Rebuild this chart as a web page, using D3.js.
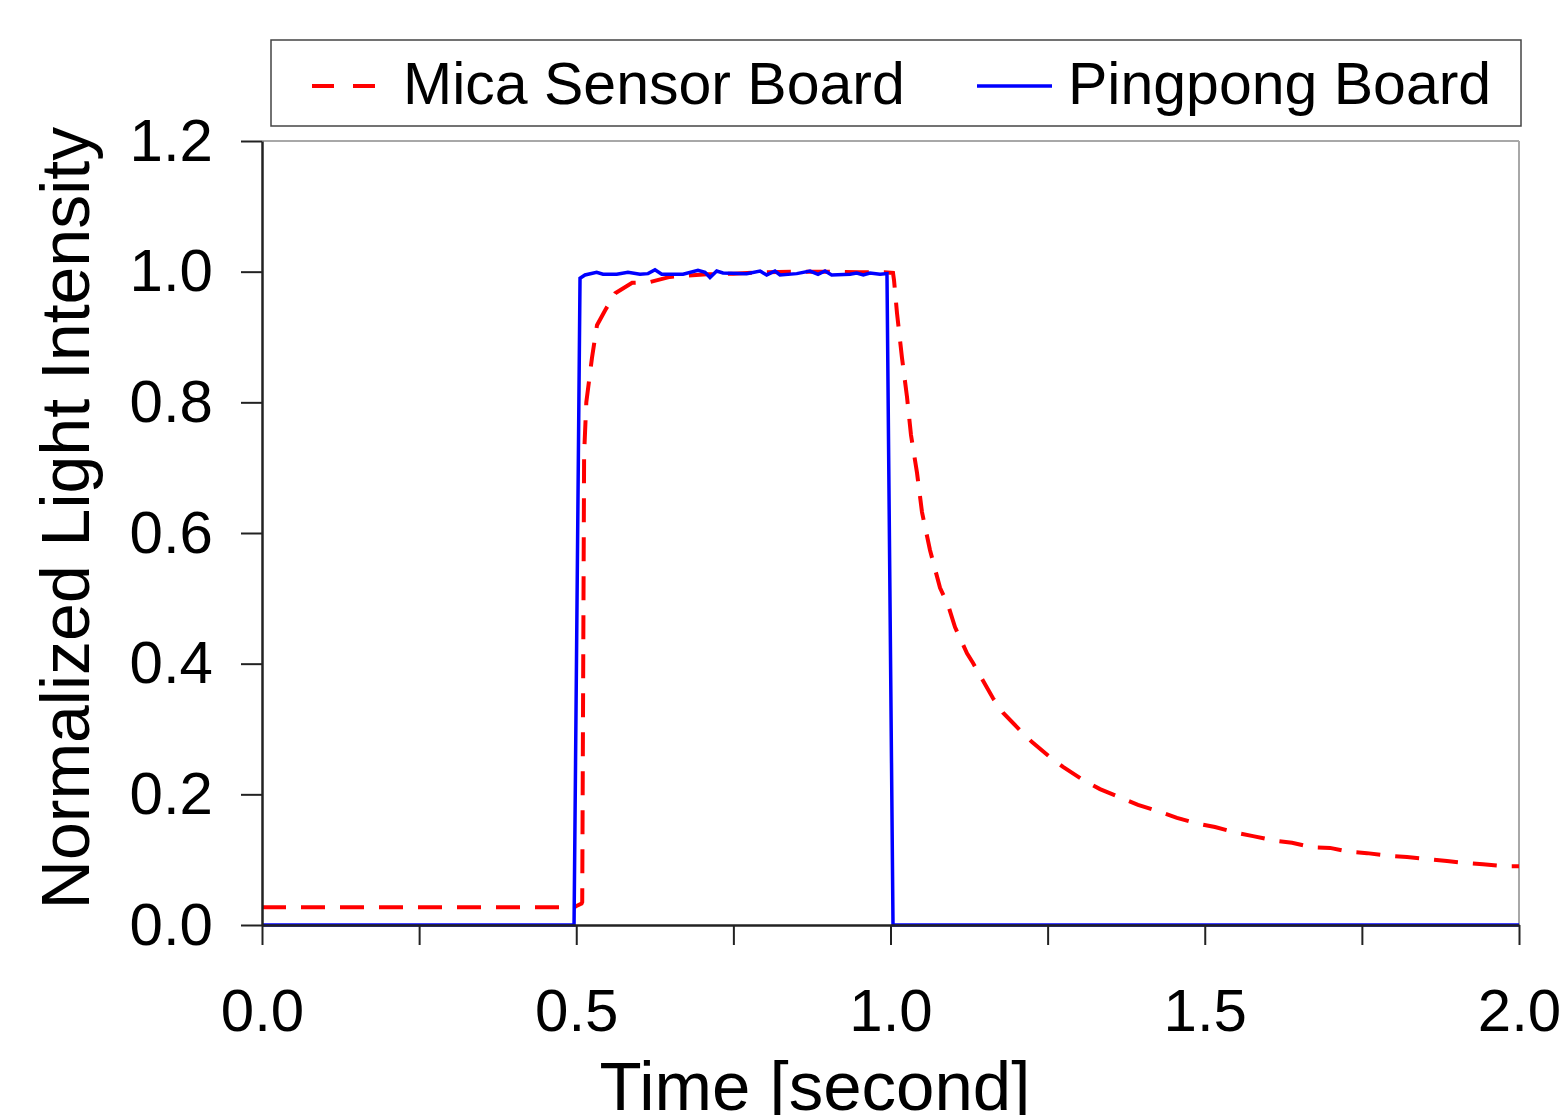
<!doctype html>
<html>
 <head>
 <title>Light Intensity</title>
	<script src="https://d3js.org/d3.v7.min.js"></script>
	<style>
body {
    margin: 0;
    background: #fff;
    font-family: 'Liberation Sans', Arial, sans-serif;
	}
.axis text {
    font-family: 'Liberation Sans', Arial, sans-serif;
    font-size: 60px;
    fill: #000;
}
	</style>
  </head>
  <body>
    <div id="container"></div>
	 <script>

	 // data (time in seconds, normalized intensity)
	 var micaTime = [0, 0.497, 0.502, 0.5085, 0.5095, 0.5125, 0.516, 0.525, 0.533, 0.546, 0.562, 0.589, 0.617, 0.649, 0.708,
		0.75, 0.8, 0.85, 0.9, 0.95, 0.99, 1.004, 1.0056, 1.0103, 1.0183, 1.0263, 1.0326, 1.0422, 1.0501, 1.0628, 1.0788,
		1.0915, 1.1026, 1.1217, 1.1313, 1.1631, 1.179, 1.2061, 1.2252, 1.2538, 1.2745, 1.3063, 1.3333, 1.3684, 1.3938,
		1.4288, 1.4558, 1.4893, 1.5163, 1.5513, 1.5768, 1.6118, 1.6389, 1.6706, 1.6993, 1.7311, 1.7582, 1.7916, 1.8218,
		1.8536, 1.8854, 1.9141, 1.9427, 1.9777, 2.0];
	 var micaValue = [0.027, 0.027, 0.030, 0.033, 0.035, 0.72, 0.80, 0.868, 0.918, 0.941, 0.967, 0.983, 0.984, 0.992, 0.996,
		0.997, 0.999, 1.0, 1.0, 0.999, 0.999, 0.998, 0.987, 0.937, 0.868, 0.808, 0.750, 0.692, 0.632, 0.574, 0.516,
		0.490, 0.456, 0.416, 0.401, 0.347, 0.325, 0.298, 0.280, 0.257, 0.242, 0.222, 0.208, 0.194, 0.184,
		0.173, 0.164, 0.155, 0.150, 0.141, 0.136, 0.129, 0.126, 0.119, 0.118, 0.112, 0.110, 0.106, 0.104,
		0.101, 0.098, 0.095, 0.093, 0.090, 0.090];

	 var pingTime = [0, 0.4965, 0.506, 0.5139, 0.5325, 0.5426, 0.5644, 0.5823, 0.6014, 0.6142, 0.6253, 0.636, 0.6699,
		0.6937, 0.7049, 0.7128, 0.7235, 0.7335, 0.7712, 0.7924, 0.803, 0.8162, 0.8242, 0.8508, 0.8719, 0.8847, 0.8958,
		0.9064, 0.9356, 0.9462, 0.9567, 0.9674, 0.9833, 0.9944, 1.004, 2.0];
	 var pingValue = [0, 0, 0.990, 0.995, 0.999, 0.996, 0.996, 0.999, 0.996, 0.997, 1.003, 0.996, 0.996,
		1.002, 0.999, 0.991, 1.001, 0.998, 0.997, 1.001, 0.995, 1.001, 0.995, 0.997, 1.001, 0.996, 1.001,
		0.995, 0.996, 0.998, 0.995, 0.998, 0.996, 0.997, 0, 0];

	 var xTicks = [0, 0.25, 0.5, 0.75, 1.0, 1.25, 1.5, 1.75, 2.0];
	 var xLabels = [0, 0.5, 1.0, 1.5, 2.0];
	 var yTicks = [0, 0.2, 0.4, 0.6, 0.8, 1.0, 1.2];
	 var seriesNames = ["Mica Sensor Board", "Pingpong Board"];

	 var width = 1567,
		 height = 1115;
	 // plot box (note: "top" is taken by window.top)
	 var plotLeft = 262, plotRight = 1519, plotTop = 141, plotBottom = 925;

	 var svg = d3.select("#container")
		.append("svg")
		.attr("width", width)
		.attr("height", height);

	 var x = d3.scaleLinear().domain([0, 2]).range([plotLeft, plotRight]);
	 var y = d3.scaleLinear().domain([0, 1.2]).range([plotBottom, plotTop]);

	 // gray frame on top and right
	 svg.append("line")
		.attr("x1", plotLeft).attr("x2", plotRight)
		.attr("y1", plotTop).attr("y2", plotTop)
		.attr("stroke", "#a8a8a8").attr("stroke-width", 2);
	 svg.append("line")
		.attr("x1", plotRight).attr("x2", plotRight)
		.attr("y1", plotTop).attr("y2", plotBottom)
		.attr("stroke", "#a8a8a8").attr("stroke-width", 2);

	 // lines
	 var line = d3.line()
		.x(function(d){ return x(d[0]); })
		.y(function(d){ return y(d[1]); });

	 svg.append("path")
		.datum(d3.zip(micaTime, micaValue))
		.attr("d", line)
		.attr("fill", "none")
		.attr("stroke", "#ff0000")
		.attr("stroke-width", 4)
		.attr("stroke-dasharray", "24,15");

	 svg.append("path")
		.datum(d3.zip(pingTime, pingValue))
		.attr("d", line)
		.attr("fill", "none")
		.attr("stroke", "#0000ff")
		.attr("stroke-width", 3.5);

	 // axes
	 var xAxis = d3.axisBottom(x)
		.tickValues(xTicks)
		.tickSize(20)
		.tickSizeOuter(0)
		.tickPadding(43)
		.tickFormat(function(d){ return xLabels.indexOf(d) >= 0 ? d3.format(".1f")(d) : ""; });

	 var yAxis = d3.axisLeft(y)
		.tickValues(yTicks)
		.tickSize(21)
		.tickSizeOuter(0)
		.tickPadding(28)
		.tickFormat(d3.format(".1f"));

	 var gx = svg.append("g")
		.attr("class", "axis")
		.attr("transform", "translate(0," + plotBottom + ")")
		.call(xAxis);
	 var gy = svg.append("g")
		.attr("class", "axis")
		.attr("transform", "translate(" + plotLeft + ",0)")
		.call(yAxis);

	 gx.selectAll("line").attr("stroke", "#222").attr("stroke-width", 2);
	 gy.selectAll("line").attr("stroke", "#222").attr("stroke-width", 2);
	 gx.select(".domain").attr("stroke", "#222").attr("stroke-width", 2.5);
	 gy.select(".domain").attr("stroke", "#222").attr("stroke-width", 2.5);

	 // axis titles
	 svg.append("text")
		.attr("x", 815)
		.attr("y", 1110)
		.attr("text-anchor", "middle")
		.style("font-size", "69px")
		.text("Time [second]");

	 svg.append("text")
		.attr("transform", "translate(89,518) rotate(-90)")
		.attr("text-anchor", "middle")
		.style("font-size", "68px")
		.text("Normalized Light Intensity");

	 // legend
	 var legend = svg.append("g");
	 legend.append("rect")
		.attr("x", 271).attr("y", 40)
		.attr("width", 1250).attr("height", 86)
		.attr("fill", "#fff")
		.attr("stroke", "#444")
		.attr("stroke-width", 1.5);

	 legend.append("line")
		.attr("x1", 312).attr("x2", 376)
		.attr("y1", 86).attr("y2", 86)
		.attr("stroke", "#ff0000")
		.attr("stroke-width", 4)
		.attr("stroke-dasharray", "22,19");
	 legend.append("text")
		.attr("x", 403).attr("y", 104)
		.style("font-size", "59px")
		.text(seriesNames[0]);

	 legend.append("line")
		.attr("x1", 977).attr("x2", 1052)
		.attr("y1", 86).attr("y2", 86)
		.attr("stroke", "#0000ff")
		.attr("stroke-width", 3.5);
	 legend.append("text")
		.attr("x", 1068).attr("y", 104)
		.style("font-size", "59px")
		.text(seriesNames[1]);

	</script>
  </body>
</html>
